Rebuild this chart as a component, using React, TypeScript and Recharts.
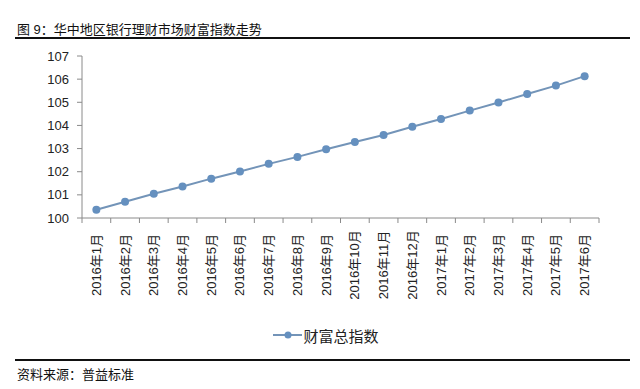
import { LineChart, Line, XAxis, YAxis, Legend } from 'recharts';

const months = [
  '2016年1月', '2016年2月', '2016年3月', '2016年4月', '2016年5月', '2016年6月',
  '2016年7月', '2016年8月', '2016年9月', '2016年10月', '2016年11月', '2016年12月',
  '2017年1月', '2017年2月', '2017年3月', '2017年4月', '2017年5月', '2017年6月',
];
const wealthIndex = [
  100.36, 100.7, 101.05, 101.36, 101.7, 102.01, 102.34, 102.64, 102.97,
  103.28, 103.59, 103.94, 104.28, 104.64, 104.99, 105.36, 105.72, 106.13,
];
const yTicks = [100, 101, 102, 103, 104, 105, 106, 107];

const seriesName = '财富总指数';
const title = '图 9：华中地区银行理财市场财富指数走势';
const source = '资料来源：普益标准';

const data = months.map((m, i) => ({ month: m, value: wealthIndex[i] }));

const W = 640;
const H = 389;
const margin = { top: 56, right: 41, left: 0, bottom: 44 };
const yAxisWidth = 82;
const step = (W - margin.left - margin.right - yAxisWidth) / months.length;
const axisColor = '#8a8a8a';
const lineColor = '#7394b8';
const dotColor = '#6590bf';
const cjk = '"Liberation Sans", "Noto Sans CJK SC", sans-serif';

function MonthTick(props: any) {
  const { x, y, payload, index } = props;
  const last = index === months.length - 1;
  return (
    <g>
      <line x1={x - step / 2} x2={x - step / 2} y1={y} y2={y + 5} stroke={axisColor} />
      {last && <line x1={x + step / 2} x2={x + step / 2} y1={y} y2={y + 5} stroke={axisColor} />}
      <text
        transform={`translate(${x},${y + 47}) rotate(-90)`}
        textAnchor="middle"
        dominantBaseline="central"
        fontSize={13}
        fontFamily={cjk}
        fill="#222"
      >
        {payload.value}
      </text>
    </g>
  );
}

function LegendContent() {
  return (
    <div style={{ display: 'flex', justifyContent: 'center', alignItems: 'center', height: 20, marginLeft: 12 }}>
      <svg width={29} height={12} style={{ marginRight: 1 }}>
        <line x1={0} x2={29} y1={6} y2={6} stroke={lineColor} strokeWidth={2} />
        <circle cx={15} cy={6} r={3.5} fill={dotColor} />
      </svg>
      <span style={{ fontFamily: cjk, fontSize: 15, color: '#222' }}>{seriesName}</span>
    </div>
  );
}

export default function App() {
  return (
    <div style={{ position: 'absolute', top: 0, left: 0, width: W, height: H, background: '#fff' }}>
      <div style={{ position: 'absolute', left: 17, top: 19, fontFamily: cjk, fontSize: 13, color: '#111', whiteSpace: 'nowrap' }}>
        {title}
      </div>
      <div style={{ position: 'absolute', left: 15, top: 37, width: 615, height: 2, background: '#111' }} />
      <LineChart width={W} height={H} data={data} margin={margin}>
        <XAxis
          dataKey="month"
          interval={0}
          height={107}
          tickSize={0}
          tickMargin={0}
          tickLine={false}
          padding={{ left: step / 2, right: step / 2 }}
          stroke={axisColor}
          tick={<MonthTick />}
        />
        <YAxis
          domain={[100, 107]}
          ticks={yTicks}
          width={yAxisWidth}
          tickSize={5}
          tickMargin={8}
          stroke={axisColor}
          tick={{ fill: '#222', fontSize: 13, fontFamily: cjk }}
        />
        <Legend verticalAlign="bottom" wrapperStyle={{ left: 0, width: W, height: 20 }} content={<LegendContent />} />
        <Line
          type="linear"
          dataKey="value"
          name={seriesName}
          stroke={lineColor}
          strokeWidth={2}
          dot={{ r: 4, fill: dotColor, stroke: dotColor, strokeWidth: 0 }}
          activeDot={false}
          isAnimationActive={false}
        />
      </LineChart>
      <div style={{ position: 'absolute', left: 15, top: 359, width: 615, height: 2, background: '#111' }} />
      <div style={{ position: 'absolute', left: 17, top: 364, fontFamily: cjk, fontSize: 13, color: '#111', whiteSpace: 'nowrap' }}>
        {source}
      </div>
    </div>
  );
}
